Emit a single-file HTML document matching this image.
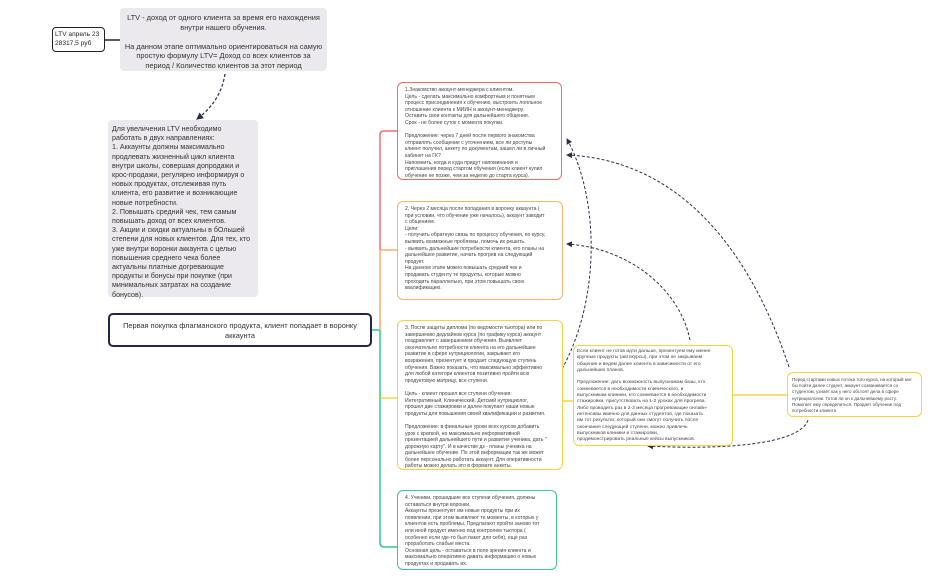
<!DOCTYPE html>
<html><head><meta charset="utf-8"><style>
body{margin:0;width:933px;height:578px;background:#fff;position:relative;overflow:hidden;font-family:"Liberation Sans","Noto Sans CJK SC",sans-serif;color:#333}
.b{position:absolute;box-sizing:border-box}
.grey{background:#ebe9ed;border-radius:4px}
.t{position:absolute;font-size:5.1px;line-height:6.6px;color:#444;white-space:nowrap}
.c{border-radius:6px;background:#fff;border:1.3px solid}
</style></head><body>
<svg width="933" height="578" style="position:absolute;left:0;top:0">
<defs><marker id="a" markerWidth="6" markerHeight="6" refX="5" refY="3" orient="auto"><path d="M0,0 L6,3 L0,6 z" fill="#2b2d4a"/></marker></defs>
<line x1="105" y1="40" x2="120" y2="40" stroke="#222" stroke-width="1.5"/>
<path d="M225,74 C222,92 214,106 197,119" stroke="#2b2d4a" stroke-width="1.2" fill="none" stroke-dasharray="3,2" marker-end="url(#a)"/>
<line x1="372" y1="330" x2="380" y2="330" stroke="#2ec98a" stroke-width="1.5"/>
<path d="M397,131 H384 Q380,131 380,135 V250" stroke="#f26b6b" stroke-width="1.5" fill="none"/>
<path d="M397,250 H380 V330" stroke="#f7ac6b" stroke-width="1.5" fill="none"/>
<path d="M380,330 V543 Q380,547 384,547 H397" stroke="#2ec98a" stroke-width="1.5" fill="none"/>
<path d="M380,398 H397" stroke="#f5d442" stroke-width="1.5" fill="none"/>
<line x1="563" y1="401" x2="573" y2="401" stroke="#f5d442" stroke-width="1.5"/>
<line x1="733" y1="395" x2="787" y2="395" stroke="#f5d442" stroke-width="1.5"/>
<path d="M562,369 C600,300 600,200 567,139" stroke="#2b2d4a" stroke-width="1" fill="none" stroke-dasharray="3,2" marker-end="url(#a)"/>
<path d="M789,367 C750,250 680,160 567,155" stroke="#2b2d4a" stroke-width="1" fill="none" stroke-dasharray="3,2" marker-end="url(#a)"/>
<path d="M690,340 C680,290 630,248 567,244" stroke="#2b2d4a" stroke-width="1" fill="none" stroke-dasharray="3,2" marker-end="url(#a)"/>
<path d="M808,420 C800,445 720,450 648,446" stroke="#2b2d4a" stroke-width="1" fill="none" stroke-dasharray="3,2" marker-end="url(#a)"/>
</svg>
<div class="b" style="left:52px;top:27px;width:53px;height:25px;border:1.5px solid #222;border-radius:4px;background:#fff;font-size:6.6px;line-height:8.5px;padding:3px 2px;color:#222;white-space:nowrap">LTV апрель 23<br>28317,5 руб</div>
<div class="b grey" style="left:120px;top:8px;width:207px;height:63px;font-size:7.4px;line-height:9.6px;text-align:center;padding-top:5px;color:#333;white-space:nowrap">LTV - доход от одного клиента за время его нахождения<br>внутри нашего обучения.<br><br>На данном этапе оптимально ориентироваться на самую<br>простую формулу LTV= Доход со всех клиентов за<br>период / Количество клиентов за этот период</div>
<div class="b grey" style="left:108px;top:120px;width:150px;height:177px;font-size:7.1px;line-height:9.2px;padding:5px 0 0 4px;color:#333;white-space:nowrap">Для увеличения LTV необходимо<br>работать в двух направлениях:<br>1. Аккаунты должны максимально<br>продлевать жизненный цикл клиента<br>внутри школы, совершая допродажи и<br>крос-продажи, регулярно информируя о<br>новых продуктах, отслеживая путь<br>клиента, его развитие и возникающие<br>новые потребности.<br>2. Повышать средний чек, тем самым<br>повышать доход от всех клиентов.<br>3. Акции и скидки актуальны в бОльшей<br>степени для новых клиентов. Для тех, кто<br>уже внутри воронки аккаунта с целью<br>повышения среднего чека более<br>актуальны платные догревающие<br>продукты и бонусы при покупке (при<br>минимальных затратах на создание<br>бонусов).</div>
<div class="b" style="left:108px;top:313px;width:264px;height:34px;border:2px solid #23264a;border-radius:5px;background:#fff;font-size:7.4px;line-height:9.5px;text-align:center;padding-top:6px;color:#333">Первая покупка флагманского продукта, клиент попадает в воронку<br>аккаунта</div>

<div class="b c" style="left:397px;top:82px;width:165px;height:98px;border-color:#f26b6b"></div>
<div class="t" style="left:405px;top:87px">1.Знакомство аккаунт-менеджера с клиентом.<br>Цель - сделать максимально комфортным и понятным<br>процесс присоединения к обучению, выстроить лояльное<br>отношение клиента к МИИН и аккаунт-менеджеру.<br>Оставить свои контакты для дальнейшего общения.<br>Срок - не более суток с момента покупки.<br><br>Предложение: через 7 дней после первого знакомства<br>отправлять сообщение с уточнением, все ли доступы<br>клиент получил, анкету по документам, зашел ли в личный<br>кабинет на ГК?<br>Напомнить, когда и куда придут напоминания и<br>приглашения перед стартом обучения (если клиент купил<br>обучение не позже, чем за неделю до старта курса).</div>

<div class="b c" style="left:397px;top:201px;width:166px;height:99px;border-color:#f7b26b"></div>
<div class="t" style="left:405px;top:206px">2. Через 2 месяца после попадания в воронку аккаунта (<br>при условии, что обучение уже началось), аккаунт заводит<br>с общением.<br>Цели:<br>- получить обратную связь по процессу обучения, по курсу,<br>выявить возможные проблемы, помочь их решить.<br>- выявить дальнейшие потребности клиента, его планы на<br>дальнейшее развитие, начать прогрев на следующий<br>продукт.<br>На данном этапе можно повышать средний чек и<br>продавать студенту те продукты, которые можно<br>проходить параллельно, при этом повышать свою<br>квалификацию.</div>

<div class="b c" style="left:397px;top:320px;width:166px;height:150px;border-color:#f5d442"></div>
<div class="t" style="left:405px;top:325px">3. После защиты диплома (по ведомости тьютора) или по<br>завершению дедлайнов курса (по графику курса) аккаунт<br>поздравляет с завершением обучения. Выявляет<br>окончательно потребности клиента на его дальнейшее<br>развитие в сфере нутрициологии, закрывает его<br>возражения, презентует и продает следующую ступень<br>обучения. Важно показать, что максимально эффективно<br>для любой категори клиентов позитивно пройти всю<br>продуктовую матрицу, все ступени.<br><br>Цель - клиент прошел все ступени обучения:<br>Интегративный, Клинический, Детский нутрициолог,<br>прошел две стажировки и далее покупает наши новые<br>продукты для повышения своей квалификации и развития.<br><br>Предложение: в финальные уроки всех курсов добавить<br>урок с краткой, но максимально информативной<br>презентацией дальнейшего пути и развития ученика, дать "<br>дорожную карту". И в качестве дз - планы ученика на<br>дальнейшее обучение. По этой информации так же может<br>более персонально работать аккаунт. Для оперативности<br>работы можно делать это в формате анкеты.</div>

<div class="b c" style="left:397px;top:490px;width:160px;height:80px;border-color:#3ec98a"></div>
<div class="t" style="left:405px;top:495px">4. Ученики, прошедшие все ступени обучения, должны<br>оставаться внутри воронки.<br>Аккаунты презентуют им новые продукты при их<br>появлении, при этом выявляют те моменты, в которых у<br>клиентов есть проблемы. Предлагают пройти заново тот<br>или иной продукт именно под контролем тьютора (<br>особенно если где-то был пакет для себя), еще раз<br>проработать слабые места.<br>Основная цель - оставаться в поле зрения клиента и<br>максимально оперативно давать информацию о новых<br>продуктах и продавать их.</div>

<div class="b c" style="left:573px;top:345px;width:160px;height:101px;border-color:#f5d442"></div>
<div class="t" style="left:577px;top:349px;font-size:4.9px;line-height:6.3px">Если клиент не готов идти дальше, презентуем ему менее<br>крупные продукты (автокурсы), при этом не закрываем<br>общение и ведем далее клиента в зависимости от его<br>дальнейших планов.<br><br>Предложение: дать возможность выпускникам базы, кто<br>сомневается в необходимости клинического, и<br>выпускникам клиники, кто сомневается в необходимости<br>стажировки, присутствовать на 1-2 уроках для прогрева.<br>Либо проводить раз в 2-3 месяца прогревающие онлайн-<br>интенсивы именно для данных студентов, где показать<br>им тот результат, который они смогут получить после<br>окончания следующей ступени, можно привлечь<br>выпускников клиники и стажировки,<br>продемонстрировать реальные кейсы выпускников.</div>

<div class="b c" style="left:787px;top:372px;width:135px;height:45px;border-color:#f5d442"></div>
<div class="t" style="left:792px;top:377px;font-size:4.5px;line-height:6.2px">Перед стартами новых потока того курса, на который мог<br>бы пойти далее студент, аккаунт созванивается со<br>студентом, узнает как у него обстоят дела в сфере<br>нутрициологии. Готов ли он к дальнейшему росту.<br>Помогает ему определиться. Продает обучение под<br>потребности клиента</div>
</body></html>
